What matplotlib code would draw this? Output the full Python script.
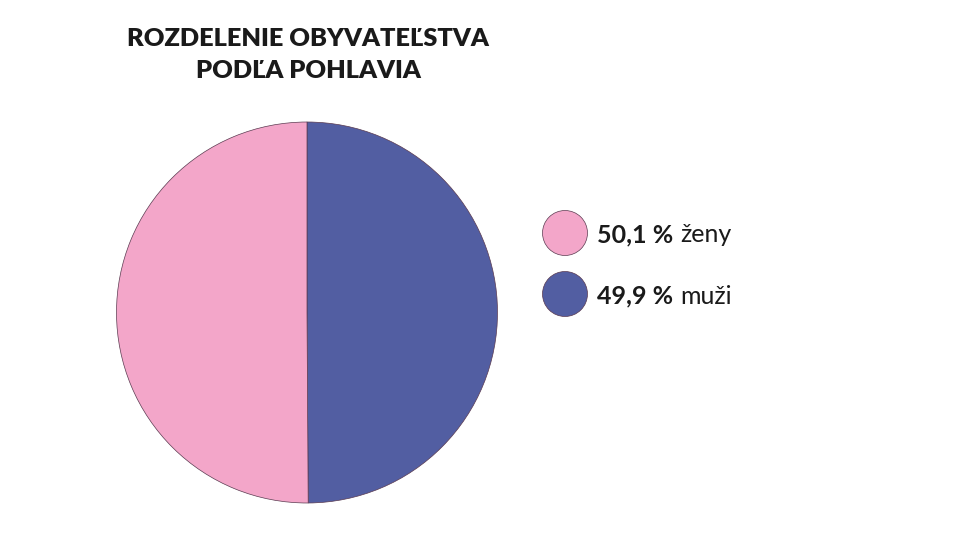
import matplotlib.pyplot as plt
from matplotlib.patches import Circle

# data
labels = ["muži", "ženy"]
shares = [49.9, 50.1]
share_txt = ["49,9 %", "50,1 %"]
colors = ["#525ea2", "#f3a6c9"]
title_lines = ["ROZDELENIE OBYVATEĽSTVA", "PODĽA POHLAVIA"]

W, H = 970, 543
fig = plt.figure(figsize=(W / 100, H / 100), dpi=100)
fig.patch.set_facecolor("white")

# pie axes placed in pixel terms
cx, cy, r = 307, 312.5, 190.5
ax = fig.add_axes([(cx - r) / W, (H - cy - r) / H, 2 * r / W, 2 * r / H])
ax.pie(shares, colors=colors, startangle=90, counterclock=False, radius=1,
       wedgeprops=dict(edgecolor="#5a3a50", linewidth=0.5))
ax.set_xlim(-1, 1)
ax.set_ylim(-1, 1)
ax.set_aspect("equal")
ax.axis("off")

# overlay axes in pixel coords for title and legend
ov = fig.add_axes([0, 0, 1, 1])
ov.set_xlim(0, W)
ov.set_ylim(H, 0)
ov.axis("off")

ov.text(308, 39, title_lines[0], ha="center", va="center", fontsize=18.3,
        fontfamily="Lato", fontweight="heavy", color="#1a1a1a")
ov.text(308, 71, title_lines[1], ha="center", va="center", fontsize=18.3,
        fontfamily="Lato", fontweight="heavy", color="#1a1a1a")

renderer = fig.canvas.get_renderer()
leg_y = [294, 233]
for i in [1, 0]:
    y = leg_y[i]
    ov.add_patch(Circle((565, y), 22.5, facecolor=colors[i],
                        edgecolor="#5a3a50", linewidth=0.5))
    t = ov.text(597, y, share_txt[i], ha="left", va="center_baseline",
                fontsize=18, fontfamily="Lato", fontweight="bold",
                color="#1a1a1a")
    bb = t.get_window_extent(renderer=renderer)
    ov.text(bb.x1 + 7, y, labels[i], ha="left", va="center_baseline",
            fontsize=18, fontfamily="Lato", color="#1a1a1a")

fig.savefig("out.png", dpi=100)
